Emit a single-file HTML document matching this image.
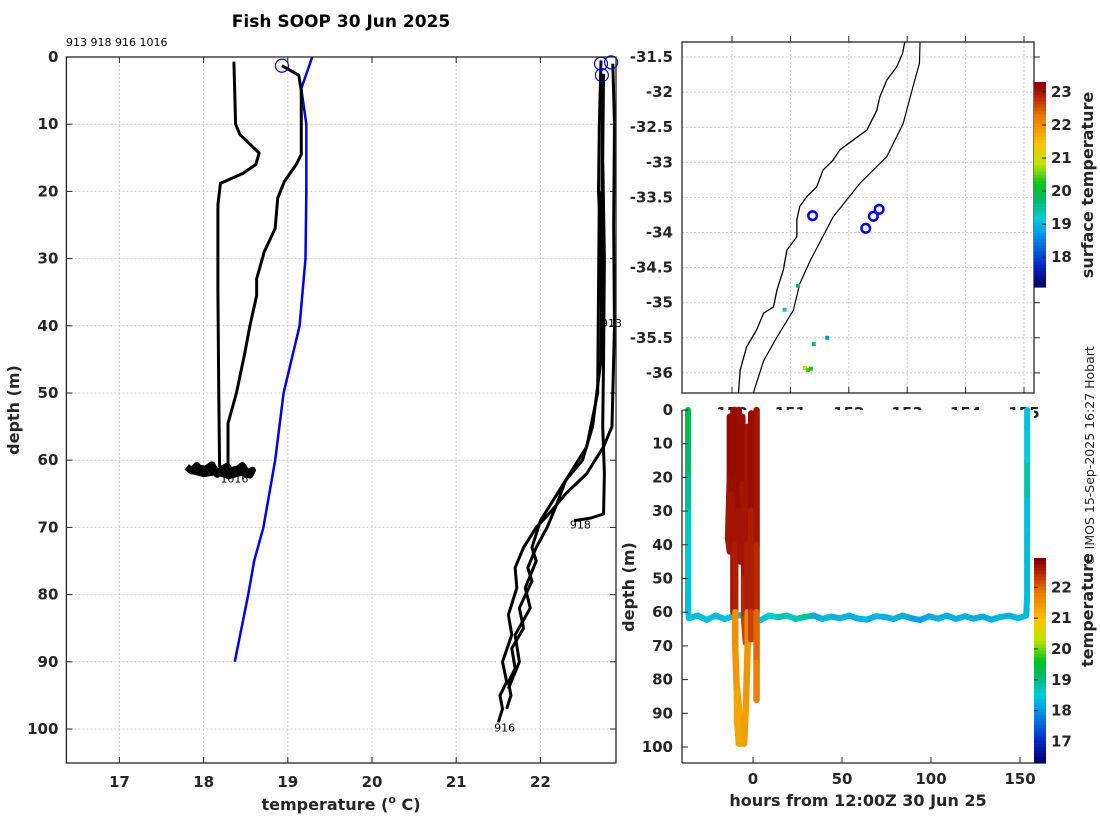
<!DOCTYPE html>
<html><head><meta charset="utf-8">
<style>
html,body{margin:0;padding:0;background:#fff;}
svg{display:block;font-family:"DejaVu Sans","Liberation Sans",sans-serif;}
.tk{font-size:15px;font-weight:bold;fill:#262626;}
.lb{font-size:16px;font-weight:bold;fill:#262626;}
</style></head>
<body>
<svg id="fig" width="1100" height="820" viewBox="0 0 1100 820" xmlns="http://www.w3.org/2000/svg">
<rect width="1100" height="820" fill="#fff"/>
<g id="left"></g>
<g id="map"></g>
<g id="sect"></g>
<text x="341" y="27" text-anchor="middle" style="font-size:17px;font-weight:bold" fill="#000">Fish SOOP 30 Jun 2025</text>
<text x="66" y="46" style="font-size:11px" fill="#000">913 918 916 1016</text>
<text transform="translate(1094,456) rotate(-90)" text-anchor="middle" style="font-size:12.5px" fill="#222">© IMOS 15-Sep-2025 16:27 Hobart</text>
</svg>
<script>
// ---------- DATA ----------
const p1016T=[18.36,18.38,18.43,18.66,18.62,18.47,18.20,18.17,18.17,18.18,18.19];
const p1016D=[0.7,10,11.5,14.3,16,17.3,18.8,22,35,50,61];
const blobT=[17.80,17.86,17.92,17.98,18.04,18.10,18.16,18.22,18.28,18.34,18.40,18.46,18.52,18.58,18.55,18.45,18.30,18.15,18.00,17.85,17.95,18.25,18.50];
const blobD=[61.0,61.6,60.8,61.9,61.2,60.7,62.1,61.3,60.9,62.0,61.4,60.8,61.9,61.5,62.2,61.8,62.3,61.7,62.0,61.5,61.2,61.8,61.0];
const p2T=[18.93,19.13,19.16,19.16,19.10,18.96,18.88,18.85,18.72,18.63,18.63,18.55,18.49,18.39,18.29,18.29];
const p2D=[1.3,2.7,5,14.5,16,18.5,21,25.5,29,33,35.5,40,44,50,54.5,61];
const climT=[19.29,19.16,19.22,19.22,19.21,19.14,18.95,18.85,18.71,18.60,18.53,18.37];
const climD=[0,4.7,10,20,30,40,50,60,70,75,80,90];
const p913T=[22.72,22.70,22.69,22.71,22.70,22.72,22.73];
const p913D=[0.5,10,20,25,30,35,39];
const p918T=[22.75,22.74,22.76,22.75,22.74,22.76,22.75,22.60,22.40];
const p918D=[2.5,15,30,45,55,62,68,68.6,69];
const p916T=[22.86,22.88,22.87,22.88,22.85,22.75,22.55,22.30,22.10,21.95,21.80,21.70,21.72,21.62,21.66,21.55,21.60,21.52,21.55,21.50];
const p916D=[1,10,25,40,55,58,62,65,68,70,73,76,79,83,86,90,93,95,97,99];
const p4T=[22.74,22.72,22.62,22.50,22.30,22.18,22.08,21.95,21.85,21.90,21.75,21.80,21.66,21.70,21.62,21.65,21.60];
const p4D=[3,45,55,60,63,67,70,73,76,78,82,85,88,91,93,95,97];
const p5T=[22.70,22.68,22.55,22.35,22.20,22.00,21.90,21.95,21.82,21.88,21.70,21.75,21.62];
const p5D=[20,50,58,62,65,69,73,75,79,82,86,90,94];
const surfT=[18.93,22.72,22.84,22.73];
const surfD=[1.3,1,0.8,2.7];
const xTicks=[17,18,19,20,21,22];
const yTicks=[0,10,20,30,40,50,60,70,80,90,100];
// map
const coastLon=[152.96,152.92,152.82,152.65,152.53,152.48,152.31,152.08,151.85,151.73,151.56,151.45,151.28,151.16,151.11,151.11,150.94,150.88,150.77,150.71,150.54,150.42,150.25,150.14,150.11];
const coastLat=[-31.28,-31.45,-31.64,-31.83,-32.07,-32.26,-32.54,-32.68,-32.82,-32.97,-33.11,-33.35,-33.49,-33.63,-33.82,-34.06,-34.25,-34.53,-34.82,-35.06,-35.15,-35.39,-35.63,-35.96,-36.29];
const shelfLon=[153.22,153.21,153.10,152.93,152.65,152.19,151.73,151.34,151.16,151.05,150.77,150.54,150.36];
const shelfLat=[-31.28,-31.59,-31.92,-32.45,-32.92,-33.30,-33.78,-34.40,-34.73,-35.11,-35.49,-35.83,-36.30];
const stnLon=[151.38,152.29,152.42,152.52];
const stnLat=[-33.76,-33.94,-33.77,-33.67];
const sstLon=[151.13,150.90,151.40,151.63,151.25,151.30,151.35];
const sstLat=[-34.76,-35.10,-35.59,-35.50,-35.93,-35.96,-35.94];
const sstVal=[19.7,19.3,19.8,18.6,20.9,20.4,20.1];
const lonTicks=[150,151,152,153,154,155];
const latTicks=[-31.5,-32,-32.5,-33,-33.5,-34,-34.5,-35,-35.5,-36];
const cb1Ticks=[18,19,20,21,22,23];
// section
const trkT=[-36.5,-36.5,-36.5,-36.5,-36.5,-36.5,-36.5,-36.5,-36,-31,-26,-21,-16,-11,-6,-1,4,9,14,19,24,29,34,39,44,49,54,59,64,69,74,79,84,89,94,99,104,109,114,119,124,129,134,139,144,149,153.5,154,154,154,154,154,154,154];
const trkD=[0,10,20,30,40,50,55,60,61.8,61,62.3,61,62,61.2,60.8,61.9,62.4,61,61.5,61,62,61.4,61,62,61.3,61.8,61,61.9,62.2,61.2,61.4,62,61,61.8,62.3,61.2,61.9,61,62,61.2,61.9,61.3,62.2,61.4,61,61.8,61,55,45,35,25,15,5,0];
const trkC=[19.4,19.3,19.1,18.9,18.6,18.45,18.4,18.35,18.35,18.4,18.35,18.4,18.35,18.4,18.4,18.35,18.4,18.4,18.5,18.7,18.6,18.7,18.8,18.2,18.3,18.25,18.3,18.25,18.3,18.25,18.3,18.25,18.25,18.2,18.1,18.1,18.2,18.25,18.2,18.25,18.25,18.2,18.2,18.25,18.3,18.25,18.3,18.3,18.35,18.35,18.4,18.8,18.5,18.4];
const castHours=[[-13,-13,-14,-13],[-11,-11,-11,-11],[-10,-10,-10,-10,-10,-9,-8],[-8,-8,-7],[-6,-6,-5,-5,-5,-4],[-3,-3,-3,-3,-4,-5],[-1,-1,-1,-1],[2,2,2,2,2],[-9,-8,-7,-7,-6],[-9,-9,-8],[-12,-12,-11]];
const castDepth=[[2,20,38,42],[0,20,35,60],[0,20,40,60,70,85,99],[0,30,45],[2,22,30,50,62,69],[5,40,60,70,88,99],[1,30,60,68],[0,40,60,75,86],[82,88,95,99,92],[84,92,98],[3,25,36]];
const castTemp=[[22.8,22.8,22.7,22.7],[22.8,22.8,22.8,22.7],[22.8,22.8,22.7,22.6,21.6,21.5,21.4],[22.8,22.8,22.7],[22.8,22.8,22.7,22.7,22.5,22.3],[22.8,22.7,22.6,21.7,21.5,21.4],[22.8,22.8,22.6,22.3],[22.8,22.7,22.5,22.0,21.8],[21.4,21.4,21.3,21.3,21.4],[21.4,21.3,21.3],[22.8,22.8,22.7]];
const hTicks=[0,50,100,150];
const cb2Ticks=[17,18,19,20,21,22];

// ---------- HELPERS ----------
const NS="http://www.w3.org/2000/svg";
function mk(parent,tag,attrs){const e=document.createElementNS(NS,tag);for(const k in attrs)e.setAttribute(k,attrs[k]);parent.appendChild(e);return e;}
const cmS=[[0,[0,0,110]],[0.1,[0,40,200]],[0.25,[0,150,235]],[0.33,[0,205,215]],[0.42,[0,185,110]],[0.5,[0,195,30]],[0.6,[190,230,0]],[0.7,[250,195,0]],[0.84,[232,120,0]],[0.93,[185,40,0]],[1,[135,0,0]]];
function cmap(v){v=Math.max(0,Math.min(1,v));for(let i=1;i<cmS.length;i++){if(v<=cmS[i][0]){const a=cmS[i-1],b=cmS[i],f=(v-a[0])/(b[0]-a[0]);return `rgb(${[0,1,2].map(k=>Math.round(a[1][k]+(b[1][k]-a[1][k])*f)).join(',')})`;}}return 'rgb(135,0,0)';}
const gridStyle={stroke:"#c7cbe6","stroke-width":1,"stroke-dasharray":"2,2"};

// ---------- LEFT PANEL ----------
const L=document.getElementById('left');
const lx=t=>119.4+(t-17)*84.2, ly=d=>57+d*6.72;
const LX0=66.4,LX1=616,LY0=57,LY1=763;
xTicks.forEach(t=>{const g=mk(L,'line',Object.assign({x1:lx(t),x2:lx(t),y1:LY0,y2:LY1},gridStyle));

const tx=mk(L,'text',{x:lx(t),y:LY1+24,'text-anchor':'middle',class:'tk'});tx.textContent=t;

mk(L,'line',{x1:lx(t),x2:lx(t),y1:LY1,y2:LY1-6,stroke:'#262626'});mk(L,'line',{x1:lx(t),x2:lx(t),y1:LY0,y2:LY0+6,stroke:'#262626'});});
yTicks.forEach(d=>{const g=mk(L,'line',Object.assign({x1:LX0,x2:LX1,y1:ly(d),y2:ly(d)},gridStyle));

const tx=mk(L,'text',{x:LX0-8,y:ly(d)+5,'text-anchor':'end',class:'tk'});tx.textContent=d;

mk(L,'line',{x1:LX0,x2:LX0+6,y1:ly(d),y2:ly(d),stroke:'#262626'});mk(L,'line',{x1:LX1,x2:LX1-6,y1:ly(d),y2:ly(d),stroke:'#262626'});});
function prof(T,D,col,w,name){const p=mk(L,'polyline',{points:T.map((t,i)=>lx(t)+','+ly(D[i])).join(' '),fill:'none',stroke:col,'stroke-width':w,'stroke-linejoin':'round'});
}
prof(climT,climD,'#0000ee',2.5,'climatology-profile');
prof(p1016T,p1016D,'#000',3,'profile-1016');
prof(blobT,blobD,'#000',7,'profile-1016-bottom');
prof(p2T,p2D,'#000',3,'profile-1016-b');
prof(p913T,p913D,'#000',3,'profile-913');
prof(p918T,p918D,'#000',3,'profile-918');
prof(p916T,p916D,'#000',3,'profile-916');
prof(p4T,p4D,'#000',3,'profile-918-b');
prof(p5T,p5D,'#000',3,'profile-913-b');
surfT.forEach((t,i)=>{const c=mk(L,'circle',{cx:lx(t),cy:ly(surfD[i]),r:6.5,fill:'none',stroke:'#0000ee','stroke-width':1.2});
});
[['1016',18.2,62.7],['918',22.35,69.6],['916',21.45,99.8],['913',22.72,39.6]].forEach(a=>{const tx=mk(L,'text',{x:lx(a[1]),y:ly(a[2])+4,style:'font-size:11px',fill:'#000'});tx.textContent=a[0];
});
mk(L,'rect',{x:LX0,y:LY0,width:LX1-LX0,height:LY1-LY0,fill:'none',stroke:'#262626','stroke-width':1.3});
let t=mk(L,'text',{x:341,y:810,'text-anchor':'middle',class:'lb'});t.innerHTML='temperature (<tspan dy="-7" style="font-size:11px">o</tspan><tspan dy="7"> C)</tspan>';

t=mk(L,'text',{transform:'translate(19,410) rotate(-90)','text-anchor':'middle',class:'lb'});t.textContent='depth (m)';


// ---------- MAP ----------
const M=document.getElementById('map');
const mx=l=>732+(l-150)*58.4, my=l=>57+(-31.5-l)*70.2;
const MX0=682,MX1=1034,MY0=42,MY1=393;
mk(M,'rect',{x:MX0,y:MY0,width:MX1-MX0,height:MY1-MY0,fill:'#fff'});
lonTicks.forEach(l=>{const g=mk(M,'line',Object.assign({x1:mx(l),x2:mx(l),y1:MY0,y2:MY1},gridStyle));

mk(M,'line',{x1:mx(l),x2:mx(l),y1:MY0,y2:MY0-6,stroke:'#262626'});mk(M,'line',{x1:mx(l),x2:mx(l),y1:MY1,y2:MY1-6,stroke:'#262626'});
const tx=mk(M,'text',{x:mx(l),y:418,'text-anchor':'middle',class:'tk'});tx.textContent=l;
});
latTicks.forEach(l=>{const g=mk(M,'line',Object.assign({x1:MX0,x2:MX1,y1:my(l),y2:my(l)},gridStyle));

mk(M,'line',{x1:MX1,x2:MX1+6,y1:my(l),y2:my(l),stroke:'#262626'});
const tx=mk(M,'text',{x:MX0-9,y:my(l)+5,'text-anchor':'end',class:'tk'});tx.textContent=l;
});
let cp=mk(M,'clipPath',{id:'mclip'});mk(cp,'rect',{x:MX0,y:MY0,width:MX1-MX0,height:MY1-MY0});
const mg=mk(M,'g',{'clip-path':'url(#mclip)'});
let pl=mk(mg,'polyline',{points:coastLon.map((l,i)=>mx(l)+','+my(coastLat[i])).join(' '),fill:'none',stroke:'#000','stroke-width':1.3});

pl=mk(mg,'polyline',{points:shelfLon.map((l,i)=>mx(l)+','+my(shelfLat[i])).join(' '),fill:'none',stroke:'#000','stroke-width':1.2});

sstLon.forEach((l,i)=>{const r=mk(mg,'rect',{x:mx(l)-2,y:my(sstLat[i])-2,width:4,height:4,fill:cmap((sstVal[i]-17.1)/(23.3-17.1))});
});
stnLon.forEach((l,i)=>{const c=mk(mg,'circle',{cx:mx(l),cy:my(stnLat[i]),r:4.3,fill:'none',stroke:'#0000ee','stroke-width':2.5});
});
mk(M,'rect',{x:MX0,y:MY0,width:MX1-MX0,height:MY1-MY0,fill:'none',stroke:'#262626','stroke-width':1.3});
const c1y=v=>287-(v-17.1)/(23.3-17.1)*205;
const cb1=mk(M,'g',{});
for(let i=0;i<64;i++){mk(cb1,'rect',{x:1034,y:82+i*205/64,width:12,height:205/64+0.6,fill:cmap(1-i/63)});}
cb1Ticks.forEach(v=>{mk(cb1,'line',{x1:1046,x2:1042,y1:c1y(v),y2:c1y(v),stroke:'#262626'});
const tx=mk(cb1,'text',{x:1051,y:c1y(v)+5,class:'tk'});tx.textContent=v;
});
t=mk(M,'text',{transform:'translate(1093,185) rotate(-90)','text-anchor':'middle',class:'lb'});t.textContent='surface temperature';


// ---------- SECTION ----------
const S=document.getElementById('sect');
const bx=h=>753+h*1.78, by=d=>410+d*3.37;
const SX0=682,SX1=1034,SY0=410,SY1=763;
mk(S,'rect',{x:SX0,y:SY0,width:SX1-SX0,height:SY1-SY0,fill:'#fff'});
const c2=v=>cmap((v-16.3)/(22.95-16.3));
for(let i=1;i<trkT.length;i++){const s=mk(S,'line',{x1:bx(trkT[i-1]),y1:by(trkD[i-1]),x2:bx(trkT[i]),y2:by(trkD[i]),stroke:c2(trkC[i]),'stroke-width':6,'stroke-linecap':'round'});
}
castHours.forEach((H,k)=>{for(let i=1;i<H.length;i++){const s=mk(S,'line',{x1:bx(H[i-1]),y1:by(castDepth[k][i-1]),x2:bx(H[i]),y2:by(castDepth[k][i]),stroke:c2(castTemp[k][i]),'stroke-width':6.5,'stroke-linecap':'round'});
}});
hTicks.forEach(h=>{mk(S,'line',{x1:bx(h),x2:bx(h),y1:SY1,y2:SY1-6,stroke:'#262626'});
const tx=mk(S,'text',{x:bx(h),y:SY1+21,'text-anchor':'middle',class:'tk'});tx.textContent=h;
});
yTicks.forEach(d=>{mk(S,'line',{x1:SX0,x2:SX0+6,y1:by(d),y2:by(d),stroke:'#262626'});
const tx=mk(S,'text',{x:SX0-9,y:by(d)+5,'text-anchor':'end',class:'tk'});tx.textContent=d;
});
mk(S,'line',{x1:SX0,x2:SX0,y1:SY0,y2:SY1,stroke:'#262626','stroke-width':1.3});
mk(S,'line',{x1:SX0,x2:SX1,y1:SY1,y2:SY1,stroke:'#262626','stroke-width':1.3});
const c2y=v=>763-(v-16.3)/(22.95-16.3)*205;
const cb2=mk(S,'g',{});
for(let i=0;i<64;i++){mk(cb2,'rect',{x:1034,y:558+i*205/64,width:12,height:205/64+0.6,fill:cmap(1-i/63)});}
cb2Ticks.forEach(v=>{mk(cb2,'line',{x1:1034,x2:1038,y1:c2y(v),y2:c2y(v),stroke:'#262626'});
const tx=mk(cb2,'text',{x:1051,y:c2y(v)+5,class:'tk'});tx.textContent=v;
});
t=mk(S,'text',{transform:'translate(1093,610) rotate(-90)','text-anchor':'middle',class:'lb'});t.textContent='temperature';

t=mk(S,'text',{x:858,y:806,'text-anchor':'middle',class:'lb'});t.textContent='hours from 12:00Z 30 Jun 25';

t=mk(S,'text',{transform:'translate(634,587) rotate(-90)','text-anchor':'middle',class:'lb'});t.textContent='depth (m)';

</script>
</body></html>
